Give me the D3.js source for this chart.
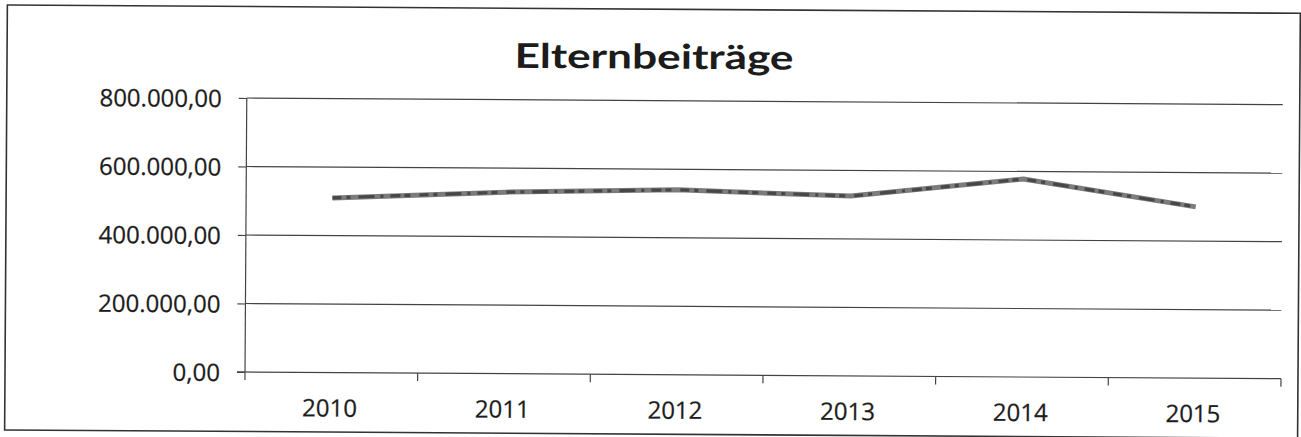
<!DOCTYPE html>
<html>
<head>
<meta charset="utf-8">
<script src="https://cdn.jsdelivr.net/npm/d3@7"></script>
<style>
  html, body { margin: 0; padding: 0; background: #fff; }
  svg { display: block; }
</style>
</head>
<body>
<script>
// Elternbeiträge per year
const chartTitle = "Elternbeiträge";
const years = ["2010", "2011", "2012", "2013", "2014", "2015"];
const beitraege = [510000, 530000, 540000, 525000, 578000, 500000];
const yTicks = [0, 200000, 400000, 600000, 800000];

const W = 1301, H = 437;
const ink = "#1c1c1c";
const ruleColor = "#444";

const de = d3.formatLocale({ decimal: ",", thousands: ".", grouping: [3], currency: ["", " €"] });
const fmt = de.format(",.2f");

const svg = d3.select("body").append("svg")
  .attr("width", W).attr("height", H);

// plot frame
const plot = { left: 245, right: 1281, top: 98, bottom: 372 };

// the sheet sits very slightly turned
const g = svg.append("g")
  .attr("transform", `rotate(0.37 ${plot.left} ${plot.bottom})`);

const x = d3.scaleBand().domain(years).range([plot.left, plot.right]).padding(0);
const y = d3.scaleLinear().domain([0, 800000]).range([plot.bottom, plot.top]);

// outer chart border
g.append("rect")
  .attr("x", 5).attr("y", 6.5)
  .attr("width", 1293).attr("height", 425)
  .attr("fill", "none").attr("stroke", "#333").attr("stroke-width", 1.6);

// title
g.append("text")
  .attr("x", 652).attr("y", 66)
  .attr("text-anchor", "middle")
  .attr("font-family", "Lato, 'Open Sans', sans-serif")
  .attr("font-weight", 700)
  .attr("font-size", 34)
  .attr("fill", ink)
  .attr("textLength", 279)
  .attr("lengthAdjust", "spacingAndGlyphs")
  .text(chartTitle);

// horizontal gridlines
g.append("g")
  .selectAll("line")
  .data(yTicks.filter(d => d > 0))
  .join("line")
  .attr("x1", plot.left).attr("x2", plot.right)
  .attr("y1", d => y(d)).attr("y2", d => y(d))
  .attr("stroke", ruleColor).attr("stroke-width", 1.2);

// y axis
const yAxis = g.append("g")
  .attr("transform", `translate(${plot.left},0)`)
  .call(d3.axisLeft(y).tickValues(yTicks).tickFormat(fmt).tickSize(8).tickPadding(17));
yAxis.select(".domain").attr("stroke", ruleColor).attr("stroke-width", 1.2)
  .attr("d", `M0,${plot.top}V${plot.bottom + 8}`);
yAxis.selectAll(".tick line").attr("stroke", ruleColor).attr("stroke-width", 1.2);
yAxis.selectAll(".tick text")
  .attr("font-family", "'Open Sans', 'DejaVu Sans', sans-serif")
  .attr("font-size", 24)
  .attr("fill", ink)
  .attr("stroke", ink).attr("stroke-width", 0.25)
  .attr("dy", "0.36em");

// x axis with ticks between categories
const xAxis = g.append("g")
  .attr("transform", `translate(0,${plot.bottom})`);
xAxis.append("line")
  .attr("x1", plot.left - 8).attr("x2", plot.right)
  .attr("stroke", ruleColor).attr("stroke-width", 1.2);
const boundaries = years.map(d => x(d)).concat([x(years[years.length - 1]) + x.bandwidth()]).slice(1);
xAxis.selectAll("line.tick")
  .data(boundaries)
  .join("line")
  .attr("class", "tick")
  .attr("x1", d => d).attr("x2", d => d)
  .attr("y1", 0).attr("y2", 8)
  .attr("stroke", ruleColor).attr("stroke-width", 1.2);
xAxis.selectAll("text")
  .data(years)
  .join("text")
  .attr("x", d => x(d) + x.bandwidth() / 2 - 1.5)
  .attr("y", 44)
  .attr("text-anchor", "middle")
  .attr("font-family", "'Open Sans', 'DejaVu Sans', sans-serif")
  .attr("font-size", 24)
  .attr("fill", ink)
  .attr("stroke", ink).attr("stroke-width", 0.25)
  .text(d => d);

// data line
const line = d3.line()
  .x((d, i) => x(years[i]) + x.bandwidth() / 2)
  .y(d => y(d));

g.append("path")
  .datum(beitraege)
  .attr("d", line)
  .attr("fill", "none")
  .attr("stroke", "#7c7c7c")
  .attr("stroke-width", 5)
  .attr("stroke-linejoin", "round")
  .attr("stroke-linecap", "butt");

// darker toner speckle along the stroke
g.append("path")
  .datum(beitraege)
  .attr("d", line)
  .attr("fill", "none")
  .attr("stroke", "#474747")
  .attr("stroke-width", 3.2)
  .attr("stroke-dasharray", "9 5 4 8 16 6 3 7 10 4 6 9")
  .attr("stroke-linejoin", "round");
</script>
</body>
</html>
